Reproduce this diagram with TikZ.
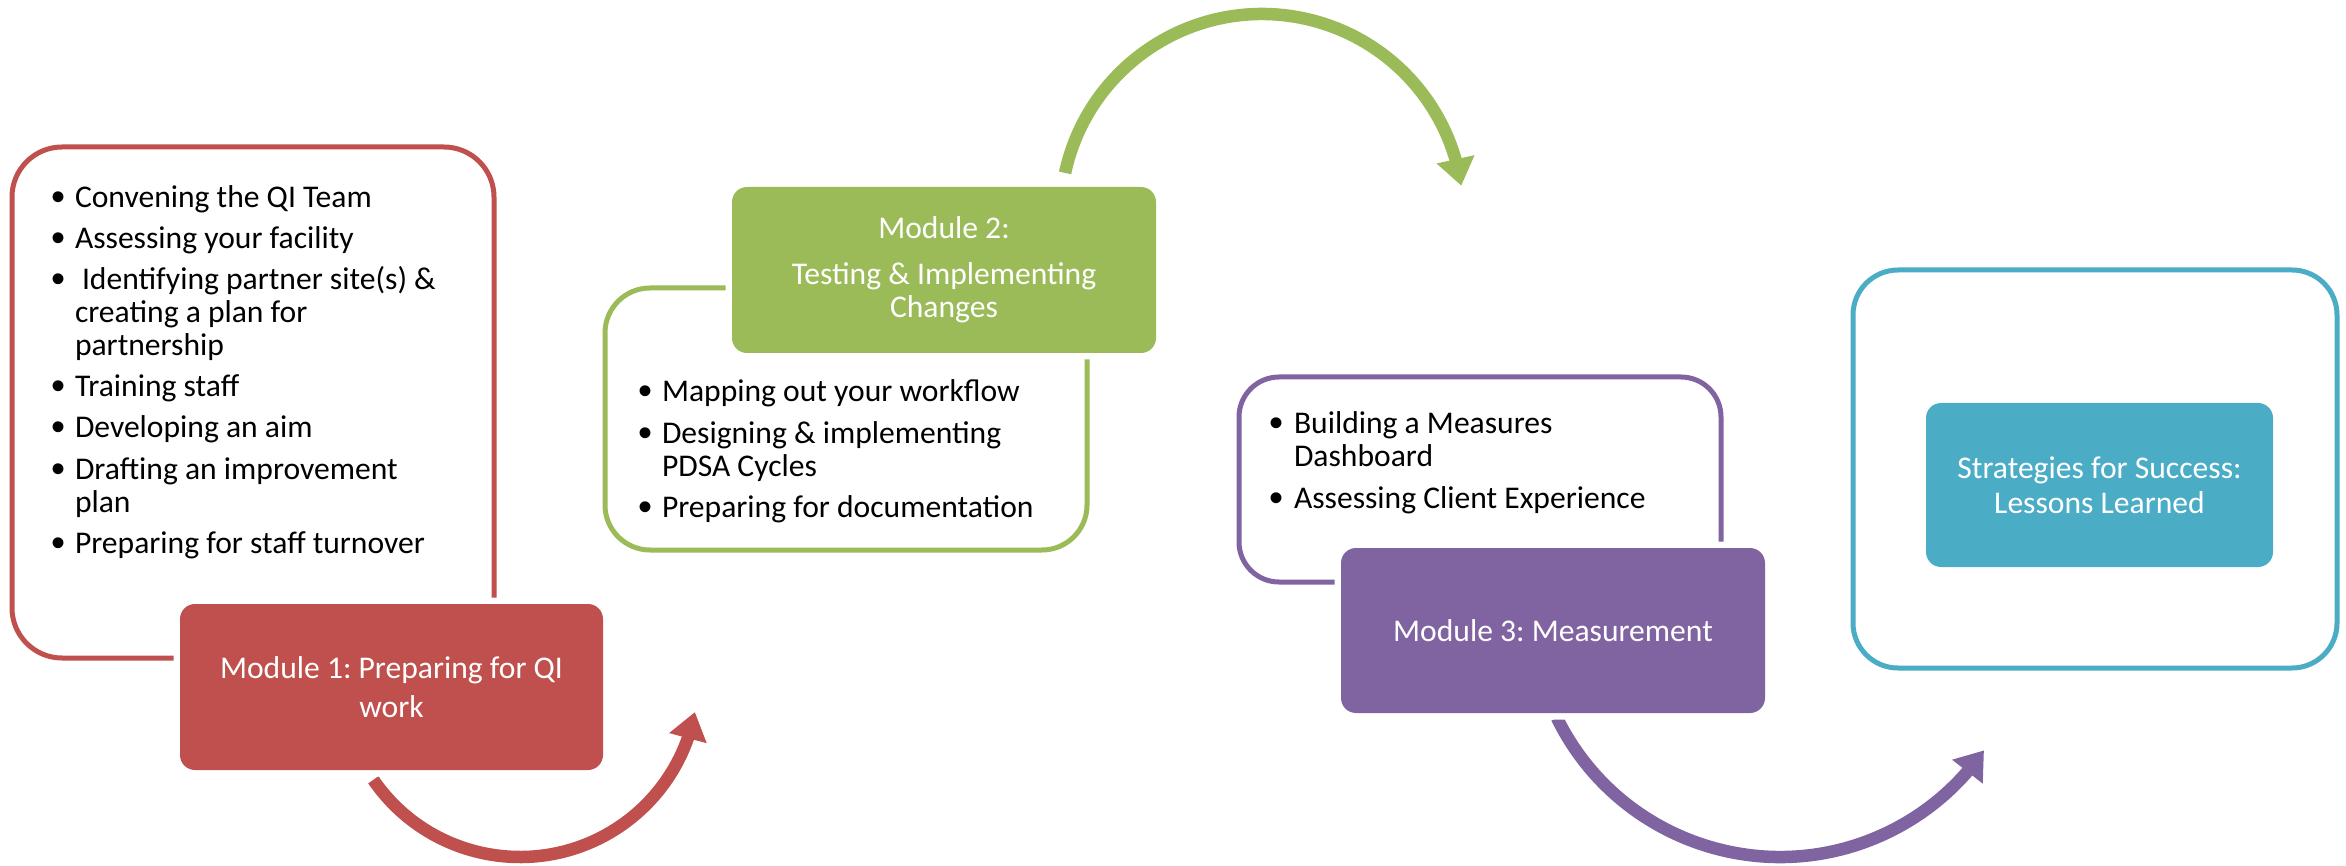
\documentclass[tikz,border=0pt]{standalone}
\usepackage{fontspec}
\setmainfont{Carlito}
\newfontfamily\bulfont{Liberation Sans}
\usetikzlibrary{arrows.meta,bending}
\definecolor{cred}{HTML}{C0504D}
\definecolor{cgreen}{HTML}{9BBB59}
\definecolor{cpurple}{HTML}{8064A2}
\definecolor{cteal}{HTML}{4BACC6}
\frenchspacing
\newcommand\litem[4]{\node[btxt] (#1) at (#2,#3) {#4};}
\newcommand\lbul[3]{\node[btxt] (#1) at (#2,#3) {\raisebox{-3pt}{\bulfont\fontsize{40}{33}\selectfont •}};}
\begin{document}
\begin{tikzpicture}[x=1pt,y=-1pt,
  outl/.style={draw=#1, line width=5pt, rounded corners=45pt, inner sep=0pt, outer sep=0pt},
  modbox/.style={fill=#1, text=white, rounded corners=15pt, inner sep=0pt, outer sep=0pt,
     align=center, font=\fontsize{31.6}{36}\selectfont\frenchspacing,
     preaction={draw=white, line width=13pt}},
  btxt/.style={anchor=base west, inner sep=0pt, outer sep=0pt, font=\fontsize{31.6}{33}\selectfont\frenchspacing},
  arr/.style={draw=#1, line width=12.5pt, -{Triangle[width=37pt,length=27pt]}}
]
\fill[white] (0,0) rectangle (2346,866);
\useasboundingbox (0,0) rectangle (2346,866);

% outline boxes
\node[outl=cred, rounded corners=50pt, minimum width=482pt, minimum height=511pt] (o1) at (253,402.5) {};
\node[outl=cgreen, minimum width=482pt, minimum height=262pt] (o2) at (846,419) {};
\node[outl=cpurple, rounded corners=40pt, minimum width=482pt, minimum height=205pt] (o3) at (1480,479.5) {};
\node[outl=cteal, minimum width=484pt, minimum height=398pt] (o4) at (2095,469) {};

% arrows
\coordinate (ra) at (520,679);
\coordinate (ga) at (1262,215.5);
\coordinate (pa) at (1780,608.6);
\draw[arr=cred] (ra) ++(145.5:178) arc[start angle=145.5, end angle=10.7, radius=178];
\draw[arr=cgreen] (ga) ++(192.2:201.5) arc[start angle=192.2, end angle=351.5, radius=201.5];
\draw[arr=cpurple] (pa) ++(153.9:248.4) arc[start angle=153.9, end angle=34.8, radius=248.4];

% module boxes
\node[modbox=cred, minimum width=423pt, minimum height=166pt] (m1) at (391.5,687) {Module 1: Preparing for QI\\[3pt]work};
\node[modbox=cgreen, minimum width=424pt, minimum height=166pt] (m2) at (944,270) {Module 2:\\[10pt]Testing \& Implementing\\[-3pt]Changes};
\node[modbox=cpurple, minimum width=424pt, minimum height=165pt] (m3) at (1553,630.5) {Module 3: Measurement};
\node[modbox=cteal, minimum width=347pt, minimum height=164pt] (m4) at (2099.5,485) {Strategies for Success:\\[-1pt]Lessons Learned};

% red list
\lbul{rb1}{51}{208} \litem{rt1}{75}{208}{Convening the QI Team}
\lbul{rb2}{51}{249} \litem{rt2}{75}{249}{Assessing your facility}
\lbul{rb3}{51}{290} \litem{rt3}{82}{290}{Identifying partner site(s) \&}
\litem{rt4}{75}{323}{creating a plan for}
\litem{rt5}{75}{356}{partnership}
\lbul{rb6}{51}{397} \litem{rt6}{75}{397}{Training staff}
\lbul{rb7}{51}{438} \litem{rt7}{75}{438}{Developing an aim}
\lbul{rb8}{51}{479} \litem{rt8}{75}{479}{Drafting an improvement}
\litem{rt9}{75}{512}{plan}
\lbul{rb10}{51}{553} \litem{rt10}{75}{553}{Preparing for staff turnover}

% green list
\lbul{gb1}{638}{402} \litem{gt1}{662}{402}{Mapping out your workflow}
\lbul{gb2}{638}{443} \litem{gt2}{662}{443}{Designing \& implementing}
\litem{gt3}{662}{476}{PDSA Cycles}
\lbul{gb4}{638}{517} \litem{gt4}{662}{517}{Preparing for documentation}

% purple list
\lbul{pb1}{1269}{434} \litem{pt1}{1294}{434}{Building a Measures}
\litem{pt2}{1294}{467}{Dashboard}
\lbul{pb3}{1269}{508} \litem{pt3}{1294}{508}{Assessing Client Experience}
\end{tikzpicture}
\end{document}
